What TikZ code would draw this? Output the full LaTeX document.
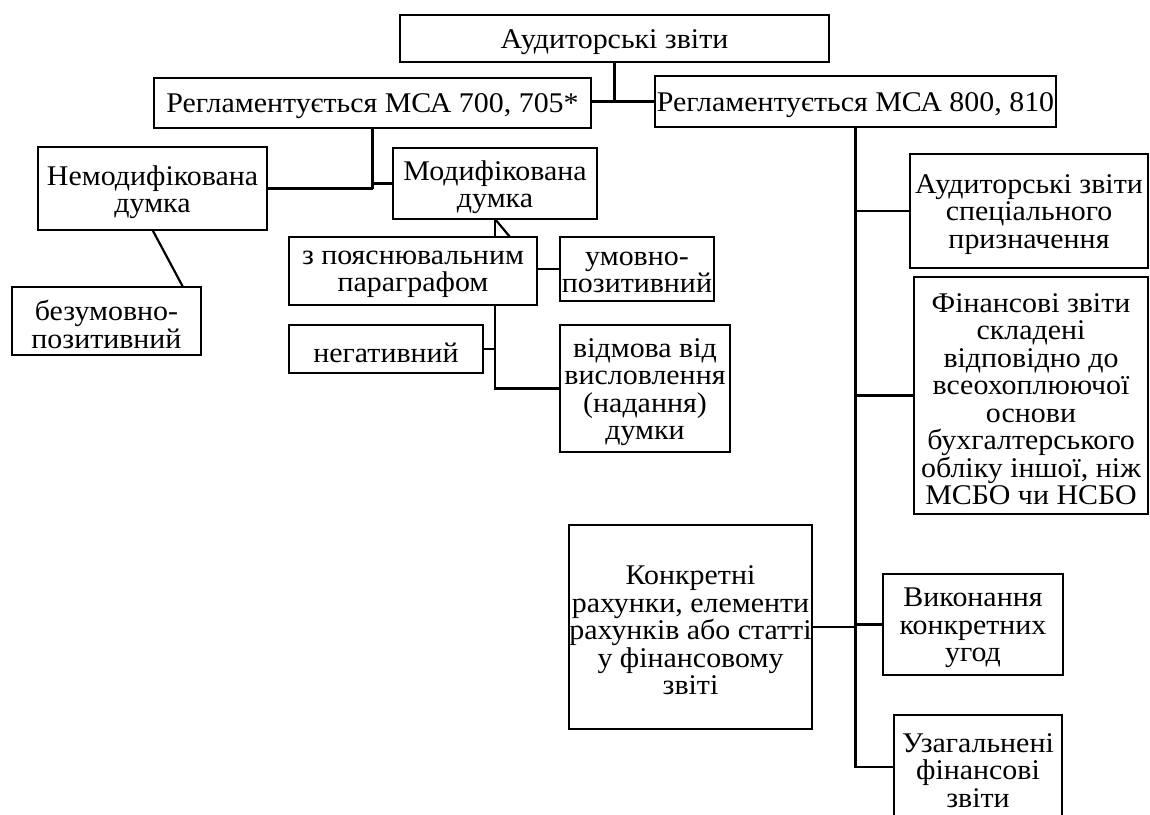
\documentclass[tikz,border=0pt]{standalone}
\usepackage{fontspec}
\setmainfont{Liberation Serif}[FakeStretch=1.05]
\usetikzlibrary{calc}
\newcommand\mybox[6]{%
  \node[box, minimum width=#4pt, minimum height=#5pt] (#1) at (#2,#3) {};
  \node[txt] (#1t) at (#1.center) {#6};}
\begin{document}
\begin{tikzpicture}[x=1pt,y=-1pt,
  box/.style={draw, line width=2.3pt, rectangle, inner sep=0pt, outer sep=0pt},
  txt/.style={align=center, inner sep=0pt, yshift=-3.5pt, font=\fontsize{28.5pt}{27.5pt}\selectfont},
  conn/.style={line width=2.2pt}]
\useasboundingbox (0,0) rectangle (1150,814);
\fill[white] (0,0) rectangle (1150,814);
\clip (0,0) rectangle (1150,814);

\mybox{top}{614.5}{38.5}{429}{47}{Аудиторські звіти}
\mybox{reg700}{372.5}{103}{437}{50}{Регламентується МСА 700, 705*}
\mybox{reg800}{855.5}{101.5}{401}{51}{Регламентується МСА 800, 810}
\mybox{nemod}{152.5}{188.5}{229}{83}{Немодифікована\\думка}
\mybox{mod}{495}{183.5}{204}{71}{Модифікована\\думка}
\mybox{bez}{106.5}{321}{189}{68}{безумовно-\\позитивний}
\mybox{poyas}{413}{271}{248}{68}{з пояснювальним\\параграфом}
\mybox{umovno}{637}{269}{154}{64}{умовно-\\позитивний}
\mybox{neg}{386}{349}{194}{48}{негативний}
\mybox{vidm}{645}{388.5}{170}{127}{відмова від\\висловлення\\(надання)\\думки}
\mybox{spec}{1029}{211}{238}{114}{Аудиторські звіти\\спеціального\\призначення}
\mybox{fin}{1031}{395.5}{234}{237}{Фінансові звіти\\складені\\відповідно до\\всеохоплюючої\\основи\\бухгалтерського\\обліку іншої, ніж\\МСБО чи НСБО}
\mybox{konk}{690.5}{627}{243}{204}{Конкретні\\рахунки, елементи\\рахунків або статті\\у фінансовому\\звіті}
\mybox{vyk}{973}{624.5}{180}{101}{Виконання\\конкретних\\угод}
\mybox{uzag}{978}{767}{168}{104}{Узагальнені\\фінансові\\звіти}

% top level
\draw[conn] (top.south) -- (top.south |- reg800.west);
\draw[conn] (reg700.east |- reg800.west) -- (reg800.west);
% left branch
\draw[conn] (reg700.south) -- (reg700.south |- nemod.east);
\draw[conn] (nemod.east) -- (reg700.south |- nemod.east);
\draw[conn] (reg700.south |- mod.west) -- (mod.west);
\coordinate (bezin) at ($(bez.north)+(76.5,0)$);
\draw[conn] (nemod.south) -- (bezin);
\coordinate (poyin) at (mod.south |- poyas.north);
\coordinate (poyin2) at ($(poyin)+(15,0)$);
\draw[conn] (mod.south) -- (poyin);
\draw[conn] (mod.south) -- (poyin2);
\draw[conn] (poyas.east |- umovno.west) -- (umovno.west);
\coordinate (pv) at (mod.south |- poyas.south);
\draw[conn] (pv) -- (pv |- vidm.west) -- (vidm.west);
\draw[conn] (neg.east) -- (pv |- neg.east);
% right branch
\draw[conn] (reg800.south) -- (reg800.south |- uzag.west) -- (uzag.west);
\draw[conn] (reg800.south |- spec.west) -- (spec.west);
\draw[conn] (reg800.south |- fin.west) -- (fin.west);
\draw[conn] (reg800.south |- vyk.west) -- (vyk.west);
\draw[conn] (konk.east) -- (reg800.south |- konk.east);
\end{tikzpicture}
\end{document}
